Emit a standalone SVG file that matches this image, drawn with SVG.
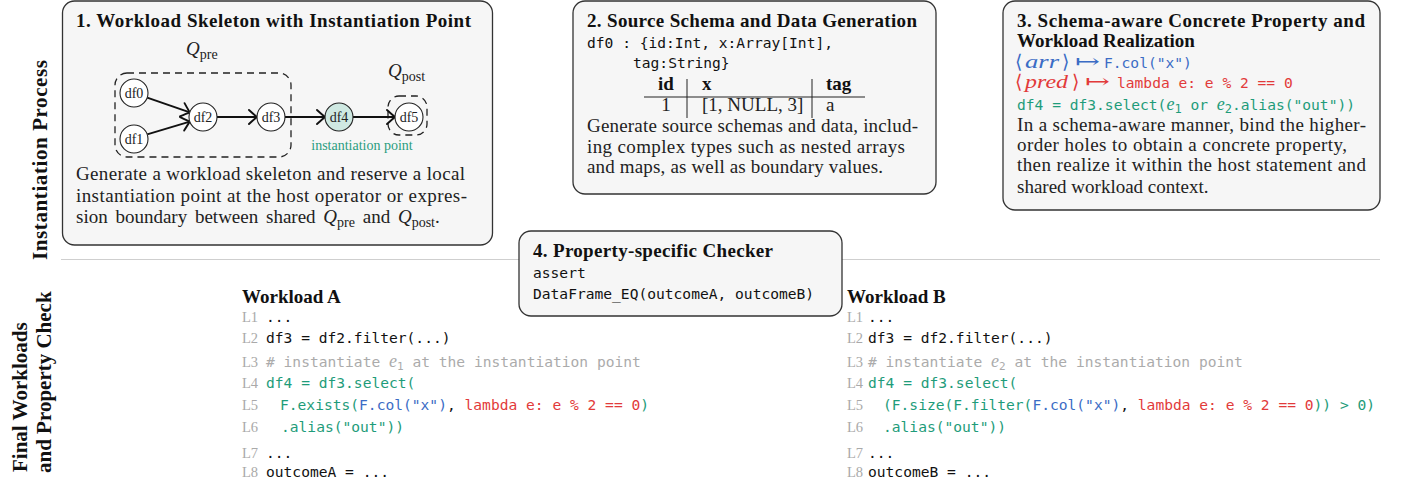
<svg xmlns="http://www.w3.org/2000/svg" width="1401" height="487" viewBox="0 0 1401 487">
<style>
.serif{font-family:"Liberation Serif","DejaVu Serif",serif;}
.mono{font-family:"DejaVu Sans Mono","Liberation Mono",monospace;}
.box{fill:#f6f6f6;stroke:#333;stroke-width:1.3;}
.title{font-family:"Liberation Serif","DejaVu Serif",serif;font-weight:bold;font-size:19px;fill:#111;}
.body{font-family:"Liberation Serif","DejaVu Serif",serif;font-size:19px;fill:#222;}
.side{font-family:"Liberation Serif","DejaVu Serif",serif;font-weight:bold;font-size:21px;fill:#111;}
.ln{font-family:"Liberation Serif","DejaVu Serif",serif;font-size:14.5px;fill:#a9a9a9;}
.code{font-family:"DejaVu Sans Mono","Liberation Mono",monospace;font-size:14.6px;fill:#111;}
.g{fill:#1e9c7a;} .b{fill:#3b6cc5;} .r{fill:#e23a3a;} .gr{fill:#ababab;} .k{fill:#111;}
.it{font-family:"Liberation Serif","DejaVu Serif",serif;font-style:italic;}
.node{fill:#fff;stroke:#222;stroke-width:1.1;}
.nlabel{font-family:"Liberation Serif","DejaVu Serif",serif;font-size:14px;fill:#222;text-anchor:middle;}
.dash{fill:none;stroke:#222;stroke-width:1.3;stroke-dasharray:7 5;}
.edge{stroke:#111;stroke-width:2;fill:none;marker-end:url(#arr);}
</style>
<defs>
<marker id="arr" markerUnits="userSpaceOnUse" viewBox="-11 -9 13 18" refX="0" refY="0" markerWidth="13" markerHeight="18" orient="auto">
<path d="M -8 -7 Q -2.5 -2 0 0 Q -2.5 2 -8 7" fill="none" stroke="#111" stroke-width="1.9" stroke-linecap="round"/>
</marker>
</defs>

<!-- side labels -->
<text class="side" transform="translate(47,160) rotate(-90)" text-anchor="middle" textLength="200">Instantiation Process</text>
<text class="side" transform="translate(27,472) rotate(-90)">Final Workloads</text>
<text class="side" transform="translate(51,473) rotate(-90)">and Property Check</text>

<!-- divider -->
<line x1="61" y1="259.5" x2="1380" y2="259.5" stroke="#cfcfcf" stroke-width="1.2"/>

<!-- Box 1 -->
<g id="box1">
<rect class="box" x="62.5" y="1" width="430" height="244" rx="12"/>
<text class="title" x="76" y="27" textLength="395">1. Workload Skeleton with Instantiation Point</text>
<text class="body" x="186" y="55"><tspan class="it">Q</tspan><tspan font-size="14" dy="4">pre</tspan></text>
<text class="body" x="388" y="77"><tspan class="it">Q</tspan><tspan font-size="14" dy="4">post</tspan></text>
<rect class="dash" x="115" y="73" width="176" height="84" rx="12"/>
<rect class="dash" x="388" y="96" width="39" height="39" rx="11"/>
<text x="362" y="150" font-family="Liberation Serif, serif" font-size="14" fill="#2a9d80" text-anchor="middle">instantiation point</text>
<text class="body" x="76" y="180" textLength="389">Generate a workload skeleton and reserve a local</text>
<text class="body" x="76" y="202" textLength="391">instantiation point at the host operator or expres-</text>
<text class="body" x="76" y="223" word-spacing="3">sion boundary between shared <tspan class="it">Q</tspan><tspan font-size="14" dy="4">pre</tspan><tspan dy="-4"> and </tspan><tspan class="it">Q</tspan><tspan font-size="14" dy="4">post</tspan><tspan dy="-4">.</tspan></text>
</g>

<g id="connectors">
<line class="edge" x1="147.2" y1="97.6" x2="189.8" y2="112.4"/>
<line class="edge" x1="147.2" y1="134.4" x2="189.8" y2="121.6"/>
<line class="edge" x1="217" y1="117" x2="257" y2="117"/>
<line class="edge" x1="285" y1="117" x2="325" y2="117"/>
<line class="edge" x1="353" y1="117" x2="395" y2="117"/>
</g>

<g id="df0"><circle class="node" cx="134" cy="93" r="14"/><text class="nlabel" x="134" y="97.5">df0</text></g>
<g id="df1"><circle class="node" cx="134" cy="139" r="14"/><text class="nlabel" x="134" y="143.5">df1</text></g>
<g id="df2"><circle class="node" cx="203" cy="117" r="14"/><text class="nlabel" x="203" y="121.5">df2</text></g>
<g id="df3"><circle class="node" cx="271" cy="117" r="14"/><text class="nlabel" x="271" y="121.5">df3</text></g>
<g id="df4"><circle class="node" cx="339" cy="117" r="14" style="fill:#cfe9e2"/><text class="nlabel" x="339" y="121.5">df4</text></g>
<g id="df5"><circle class="node" cx="409" cy="117" r="14"/><text class="nlabel" x="409" y="121.5">df5</text></g>

<!-- Box 2 -->
<g id="box2">
<rect class="box" x="573" y="1" width="363" height="193" rx="12"/>
<text class="title" x="587" y="27" textLength="330">2. Source Schema and Data Generation</text>
<text class="code" x="587" y="48" font-size="14.3">df0 : {id:Int, x:Array[Int],</text>
<text class="code" x="633" y="68" font-size="14.3">tag:String}</text>
<text class="title" x="666" y="90" text-anchor="middle">id</text>
<text class="title" x="702" y="90">x</text>
<text class="title" x="826" y="90">tag</text>
<line x1="644" y1="97" x2="865" y2="97" stroke="#222" stroke-width="1"/>
<line x1="687" y1="79" x2="687" y2="118" stroke="#222" stroke-width="1"/>
<line x1="812" y1="79" x2="812" y2="118" stroke="#222" stroke-width="1"/>
<text class="body" x="666" y="111" text-anchor="middle">1</text>
<text class="body" x="702" y="111">[1, NULL, 3]</text>
<text class="body" x="826" y="111">a</text>
<text class="body" x="587" y="132" textLength="331">Generate source schemas and data, includ-</text>
<text class="body" x="587" y="153" textLength="318">ing complex types such as nested arrays</text>
<text class="body" x="587" y="173" textLength="296">and maps, as well as boundary values.</text>
</g>

<!-- Box 3 -->
<g id="box3">
<rect class="box" x="1003" y="1" width="377" height="209" rx="12"/>
<text class="title" x="1017" y="27" textLength="348">3. Schema-aware Concrete Property and</text>
<text class="title" x="1017" y="47">Workload Realization</text>
<text class="body b" x="1015" y="68" font-size="20">⟨</text>
<text class="body b it" x="1025" y="68" font-size="21" textLength="34" lengthAdjust="spacingAndGlyphs">arr</text>
<text class="body b" x="1062" y="68" font-size="20">⟩</text>
<text class="body b" x="1075" y="68" font-size="20" textLength="25" lengthAdjust="spacingAndGlyphs">↦</text>
<text class="code b" x="1104" y="68" font-size="14.3">F.col("x")</text>
<text class="body r" x="1015" y="88" font-size="20">⟨</text>
<text class="body r it" x="1025" y="88" font-size="21" textLength="43" lengthAdjust="spacingAndGlyphs">pred</text>
<text class="body r" x="1072" y="88" font-size="20">⟩</text>
<text class="body r" x="1085" y="88" font-size="20" textLength="25" lengthAdjust="spacingAndGlyphs">↦</text>
<text class="code r" x="1117" y="88" font-size="14">lambda e: e % 2 == 0</text>
<text class="code g" x="1017" y="110" font-size="14">df4 = df3.select(<tspan class="it" font-size="18">e</tspan><tspan font-size="12" dy="3">1</tspan><tspan dy="-3"> or </tspan><tspan class="it" font-size="18">e</tspan><tspan font-size="12" dy="3">2</tspan><tspan dy="-3">.alias("out"))</tspan></text>
<text class="body" x="1017" y="131" textLength="349">In a schema-aware manner, bind the higher-</text>
<text class="body" x="1017" y="151" textLength="330">order holes to obtain a concrete property,</text>
<text class="body" x="1017" y="171" textLength="349">then realize it within the host statement and</text>
<text class="body" x="1017" y="193">shared workload context.</text>
</g>

<!-- Box 4 -->
<g id="box4">
<rect class="box" x="519" y="231" width="323" height="85" rx="12"/>
<text class="title" x="533" y="257" textLength="240">4. Property-specific Checker</text>
<text class="code" x="533" y="278" font-size="15">assert</text>
<text class="code" x="533" y="299" font-size="15">DataFrame_EQ(outcomeA, outcomeB)</text>
</g>

<!-- Workload A -->
<g id="workloadA">
<text class="title" x="242" y="303">Workload A</text>
<text class="ln" x="242" y="322">L1</text><text class="code" x="266" y="322">...</text>
<text class="ln" x="242" y="343">L2</text><text class="code" x="266" y="343">df3 = df2.filter(...)</text>
<text class="ln" x="242" y="367">L3</text><text class="code gr" x="266" y="367"># instantiate <tspan class="it" font-size="18">e</tspan><tspan font-size="11" dy="3">1</tspan><tspan dy="-3"> at the instantiation point</tspan></text>
<text class="ln" x="242" y="388">L4</text><text class="code g" x="266" y="388">df4 = df3.select(</text>
<text class="ln" x="242" y="410">L5</text><text class="code g" x="280" y="410">F.exists(<tspan class="b">F.col("x")</tspan><tspan class="k">, </tspan><tspan class="r">lambda e: e % 2 == 0</tspan>)</text>
<text class="ln" x="242" y="432">L6</text><text class="code g" x="281" y="432">.alias("out"))</text>
<text class="ln" x="242" y="458">L7</text><text class="code" x="266" y="458">...</text>
<text class="ln" x="242" y="477">L8</text><text class="code" x="266" y="477">outcomeA = ...</text>
</g>

<!-- Workload B -->
<g id="workloadB">
<text class="title" x="847" y="303">Workload B</text>
<text class="ln" x="847" y="322">L1</text><text class="code" x="868" y="322">...</text>
<text class="ln" x="847" y="343">L2</text><text class="code" x="868" y="343">df3 = df2.filter(...)</text>
<text class="ln" x="847" y="367">L3</text><text class="code gr" x="868" y="367"># instantiate <tspan class="it" font-size="18">e</tspan><tspan font-size="11" dy="3">2</tspan><tspan dy="-3"> at the instantiation point</tspan></text>
<text class="ln" x="847" y="388">L4</text><text class="code g" x="868" y="388">df4 = df3.select(</text>
<text class="ln" x="847" y="410">L5</text><text class="code g" x="883" y="410">(F.size(F.filter(<tspan class="b">F.col("x")</tspan><tspan class="k">, </tspan><tspan class="r">lambda e: e % 2 == 0</tspan>)) &gt; 0)</text>
<text class="ln" x="847" y="432">L6</text><text class="code g" x="883" y="432">.alias("out"))</text>
<text class="ln" x="847" y="458">L7</text><text class="code" x="868" y="458">...</text>
<text class="ln" x="847" y="477">L8</text><text class="code" x="868" y="477">outcomeB = ...</text>
</g>
</svg>
